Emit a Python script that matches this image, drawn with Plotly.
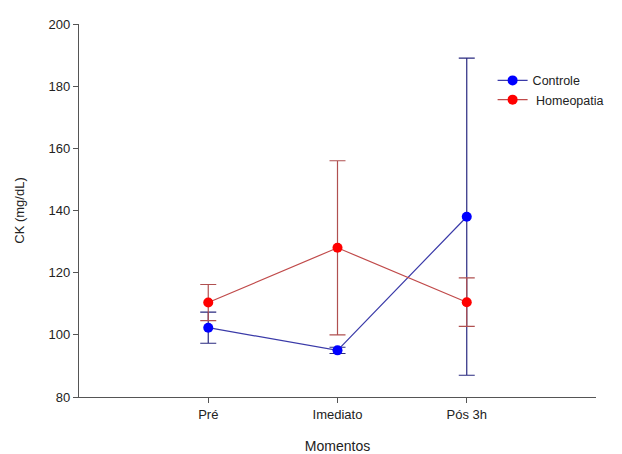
import plotly.graph_objects as go

categories = ["Pré", "Imediato", "Pós 3h"]
x_pos = [1, 2, 3]
controle_mean = [102.3, 95.0, 138.0]
controle_sd = [5.0, 1.0, 51.0]
homeo_mean = [110.4, 128.0, 110.5]
homeo_sd = [5.8, 28.0, 7.8]

fig = go.Figure()
fig.add_trace(go.Scatter(
    x=x_pos, y=controle_mean, name="Controle", mode="lines+markers",
    line=dict(color="#3a3aa8", width=1.2),
    marker=dict(color="#0000ff", size=10),
    error_y=dict(type="data", array=controle_sd, visible=True, color="#2a2a80", thickness=1.2, width=8),
))
fig.add_trace(go.Scatter(
    x=x_pos, y=homeo_mean, name=" Homeopatia", mode="lines+markers",
    line=dict(color="#c04a4a", width=1.2),
    marker=dict(color="#ff0000", size=10),
    error_y=dict(type="data", array=homeo_sd, visible=True, color="#b05050", thickness=1.2, width=8),
))

fig.update_layout(
    width=614, height=446,
    margin=dict(l=71, r=26, t=16, b=57),
    paper_bgcolor="white", plot_bgcolor="white",
    font=dict(family="Liberation Sans, Arial, sans-serif", size=13, color="#222"),
    legend=dict(x=0.80, y=0.888, xanchor="left", yanchor="top", bgcolor="rgba(0,0,0,0)",
                font=dict(size=12.5), tracegroupgap=0, itemwidth=30),
    xaxis=dict(range=[0, 4], tickvals=x_pos, ticktext=categories, showline=True,
               linecolor="#555", linewidth=1.2, ticks="outside", ticklen=5, tickcolor="#555",
               showgrid=False, zeroline=False, automargin=False,
               title=dict(text="Momentos", font=dict(size=14), standoff=22)),
    yaxis=dict(range=[80, 200], tickvals=[80, 100, 120, 140, 160, 180, 200], showline=True,
               linecolor="#555", linewidth=1.2, ticks="outside", ticklen=5, tickcolor="#555",
               showgrid=False, zeroline=False, automargin=False,
               title=dict(text="CK (mg/dL)", font=dict(size=13), standoff=21)),
)

fig.write_html("out.html")
